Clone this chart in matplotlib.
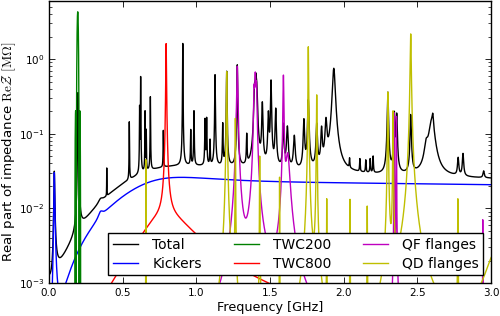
import numpy as np
import matplotlib
matplotlib.use('Agg')
import matplotlib.pyplot as plt

# resonator tables: frequency [GHz], shunt impedance [MOhm], quality factor
kick_f = [0.036, 0.35, 0.80, 2.50]
kick_r = [0.030, 0.0015, 0.012, 0.020]
kick_q = [6.0, 10.0, 1.0, 0.25]

# broadband rest of the machine (only seen in the total)
rest_f = [1.0]
rest_r = [0.010]
rest_q = [0.6]
rest_const = 0.0013

# narrow peaks of the total
peak_f = [0.197, 0.392, 0.545, 0.615, 0.622, 0.652, 0.660, 0.688, 0.776, 0.908,
          0.962, 0.984, 1.059, 1.070, 1.093, 1.127, 1.179, 1.206, 1.278, 1.342,
          1.395, 1.403, 1.410, 1.448, 1.489, 1.507, 1.539, 1.591, 1.618, 1.665,
          1.730, 1.760, 1.817, 1.850, 1.880, 1.933, 2.040, 2.110, 2.150, 2.180,
          2.200, 2.300, 2.344, 2.360, 2.455, 2.560, 2.598, 2.605, 2.777, 2.810,
          2.950]
peak_r = [0.35, 0.020, 0.12, 0.20, 0.55, 0.17, 0.08, 0.28, 0.075, 1.58,
          0.075, 0.165, 0.12, 0.125, 0.045, 0.58, 0.10, 0.65, 0.80, 0.06,
          0.30, 0.45, 0.30, 0.22, 0.15, 0.48, 0.18, 0.10, 0.09, 0.06,
          0.12, 0.25, 0.10, 0.08, 0.11, 0.72, 0.012, 0.015, 0.014, 0.016,
          0.020, 0.33, 0.16, 0.15, 0.15, 0.03, 0.12, 0.05, 0.02, 0.027,
          0.006]
peak_q = [55, 300, 250, 300, 300, 300, 300, 300, 300, 400,
          300, 300, 300, 300, 300, 300, 300, 300, 300, 300,
          150, 150, 150, 200, 200, 250, 200, 200, 150, 150,
          200, 200, 200, 200, 150, 100, 500, 500, 500, 500,
          500, 300, 300, 300, 300, 100, 60, 300, 300, 300,
          300]

# TWC200: sinc^2 response, centre, peak, zero spacing
twc200_fc = 0.195
twc200_r = 4.3
twc200_d = 0.010

twc800_f = [0.795, 0.795]
twc800_r = [1.6, 0.008]
twc800_q = [200, 2.0]

qf_f = [1.278, 1.392, 1.400, 1.408, 1.591, 1.620, 2.343, 2.358, 2.944]
qf_r = [0.80, 0.35, 0.55, 0.40, 0.60, 0.05, 0.19, 0.17, 0.007]
qf_q = [170, 200, 200, 200, 300, 60, 1500, 1500, 3000]

qd_f = [0.657, 1.206, 1.265, 1.430, 1.565, 1.760, 1.817, 1.885, 2.043, 2.160,
        2.300, 2.335, 2.455, 2.775, 3.050]
qd_r = [0.045, 0.68, 0.16, 0.05, 0.026, 1.46, 0.33, 0.013, 0.013, 0.0104,
        0.36, 0.20, 2.17, 0.013, 0.003]
qd_q = [2000, 300, 800, 800, 1500, 600, 600, 1500, 1500, 1500,
        600, 800, 400, 1500, 20]


def re_z(f, fr, rs, q):
    out = np.zeros_like(f)
    for a, b, c in zip(fr, rs, q):
        out += b / (1.0 + c**2 * (f / a - a / f)**2)
    return out


freq = np.union1d(np.linspace(0.001, 3.0, 12000),
                  np.concatenate([peak_f, qf_f, qd_f, twc800_f, kick_f, [twc200_fc]]))

z_kick = re_z(freq, kick_f, kick_r, kick_q)
z_total = z_kick + re_z(freq, rest_f, rest_r, rest_q) + rest_const + re_z(freq, peak_f, peak_r, peak_q)
z_twc200 = twc200_r * np.sinc((freq - twc200_fc) / twc200_d)**2
z_twc200[np.abs(freq - twc200_fc) > 2 * twc200_d] = 0.0
z_twc800 = re_z(freq, twc800_f, twc800_r, twc800_q)
z_qf = re_z(freq, qf_f, qf_r, qf_q)
z_qd = re_z(freq, qd_f, qd_r, qd_q)

fig = plt.figure(figsize=(5, 3.16), dpi=100)
ax = fig.add_axes([0.098, 0.1044, 0.884, 0.8926])

lw = 1.0
ax.plot(freq, z_total, color='k', lw=lw, label='Total')
ax.plot(freq, z_kick, color='b', lw=lw, label='Kickers')
ax.plot(freq, z_twc200, color=(0, 0.5, 0), lw=lw, label='TWC200')
ax.plot(freq, z_twc800, color='r', lw=lw, label='TWC800')
ax.plot(freq, z_qf, color=(0.75, 0, 0.75), lw=lw, label='QF flanges')
ax.plot(freq, z_qd, color=(0.75, 0.75, 0), lw=lw, label='QD flanges')

ax.set_yscale('log')
ax.set_xlim(0, 3.0)
ax.set_ylim(1e-3, 6)
ax.set_xticks(np.arange(0, 3.01, 0.5))
ax.xaxis.set_major_formatter(matplotlib.ticker.FormatStrFormatter('%.1f'))
ax.tick_params(which='both', direction='in', top=True, right=True, labelsize=7.5)
ax.tick_params(which='major', length=4, width=0.6)
ax.tick_params(which='minor', length=2, width=0.5)
for s in ax.spines.values():
    s.set_linewidth(1.0)

ax.set_xlabel('Frequency [GHz]', fontsize=9.2, labelpad=2)
ax.set_ylabel(r'Real part of impedance $\mathrm{Re}\mathcal{Z}$ $[\mathrm{M}\Omega]$',
              fontsize=9.6, math_fontfamily='cm')
ax.yaxis.set_label_coords(-0.071, 0.465)

leg = ax.legend(loc='lower right', ncol=3, fontsize=10, frameon=True, fancybox=False,
                handlelength=1.8, handletextpad=1.0, columnspacing=2.3,
                labelspacing=0.3, borderaxespad=0.55, borderpad=0.35)
leg.get_frame().set_edgecolor('k')
leg.get_frame().set_linewidth(1.0)
leg.get_frame().set_alpha(1.0)

fig.savefig('out.png', dpi=100)
